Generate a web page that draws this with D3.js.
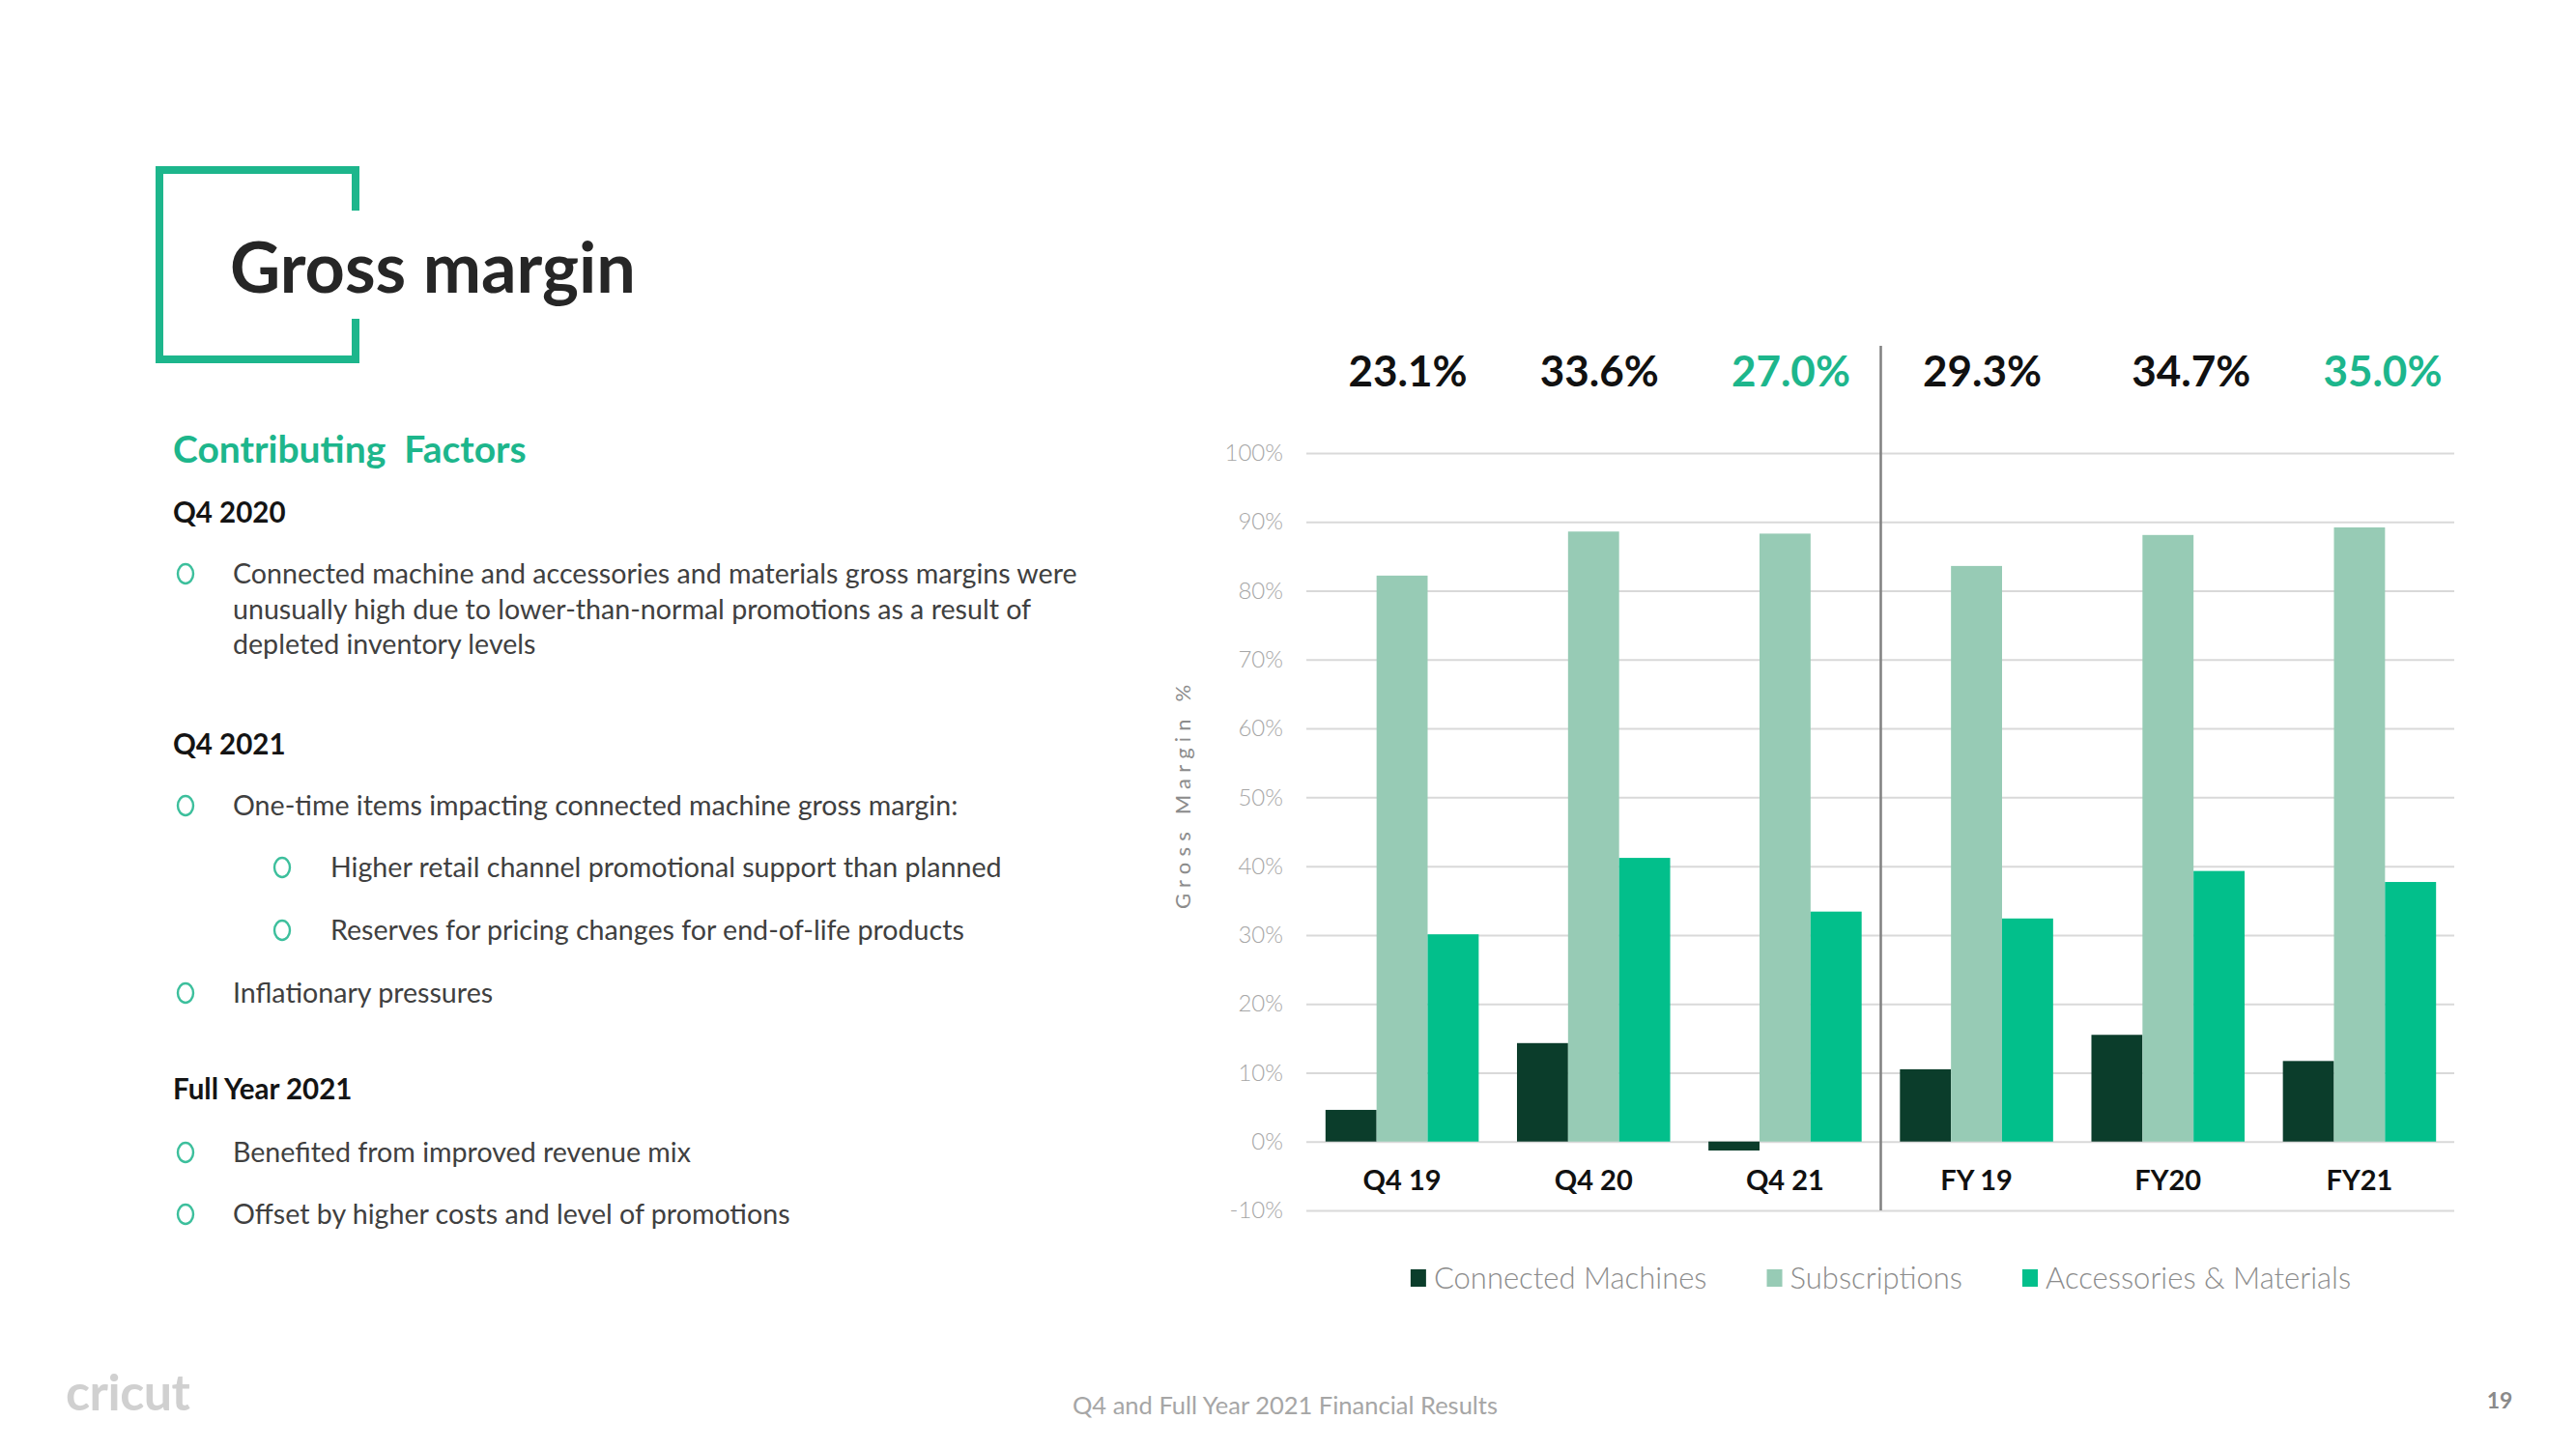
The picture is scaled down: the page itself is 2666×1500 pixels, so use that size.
<!DOCTYPE html>
<html>
<head>
<meta charset="utf-8">
<script src="https://cdn.jsdelivr.net/npm/d3@7"></script>
<style>
  html, body { margin: 0; padding: 0; background: #ffffff; }
  svg { display: block; font-family: Lato, "Open Sans", sans-serif; }
</style>
</head>
<body>
<svg id="slide" width="2666" height="1500"></svg>
<script>
// ---------- data ----------
const categories = ["Q4 19", "Q4 20", "Q4 21", "FY 19", "FY20", "FY21"];
const seriesNames = ["Connected Machines", "Subscriptions", "Accessories & Materials"];
const connectedMachines = [4.6, 14.3, -1.3, 10.5, 15.5, 11.7];
const subscriptions = [82.2, 88.6, 88.3, 83.6, 88.1, 89.2];
const accessoriesMaterials = [30.1, 41.2, 33.4, 32.4, 39.3, 37.7];
const totalMargins = ["23.1%", "33.6%", "27.0%", "29.3%", "34.7%", "35.0%"];
const totalHighlighted = [false, false, true, false, false, true];
const yTicks = [-10, 0, 10, 20, 30, 40, 50, 60, 70, 80, 90, 100];

const bulletSections = [
  { heading: "Q4 2020", items: [
      { level: 0, lines: ["Connected machine and accessories and materials gross margins were",
                          "unusually high due to lower-than-normal promotions as a result of",
                          "depleted inventory levels"] } ] },
  { heading: "Q4 2021", items: [
      { level: 0, lines: ["One-time items impacting connected machine gross margin:"] },
      { level: 1, lines: ["Higher retail channel promotional support than planned"] },
      { level: 1, lines: ["Reserves for pricing changes for end-of-life products"] },
      { level: 0, lines: ["Inflationary pressures"] } ] },
  { heading: "Full Year 2021", items: [
      { level: 0, lines: ["Benefited from improved revenue mix"] },
      { level: 0, lines: ["Offset by higher costs and level of promotions"] } ] }
];

// ---------- styles ----------
const TEAL = "#1db68c";
const seriesColors = ["#0b3d2b", "#97cbb5", "#02bf8b"];

const svg = d3.select("#slide");

// ---------- title bracket ----------
const br = svg.append("g").attr("fill", "none").attr("stroke", TEAL).attr("stroke-width", 8);
br.append("path").attr("d", "M368,218 V176 H165 V372 H368 V330");
svg.append("text").attr("x", 238).attr("y", 303)
  .attr("font-size", 72).attr("font-weight", 700).attr("fill", "#262626")
  .text("Gross margin");

// ---------- left panel ----------
svg.append("text").attr("x", 179).attr("y", 479)
  .attr("font-size", 39).attr("font-weight", 700).attr("fill", TEAL)
  .attr("xml:space", "preserve").text("Contributing  Factors");

const sectionTops = [541, 781, 1138];
const itemLayouts = [[604], [844, 908, 973, 1038], [1203, 1267]];
const lineGap = 36.6;
bulletSections.forEach((sec, si) => {
  svg.append("text").attr("x", 179).attr("y", sectionTops[si])
    .attr("font-size", 29.5).attr("font-weight", 700).attr("fill", "#141414")
    .text(sec.heading);
  sec.items.forEach((it, ii) => {
    const by = itemLayouts[si][ii];
    const bx = it.level === 0 ? 192 : 292;
    const tx = it.level === 0 ? 241 : 342;
    svg.append("ellipse").attr("cx", bx).attr("cy", by - 10)
      .attr("rx", 8).attr("ry", 10).attr("fill", "none")
      .attr("stroke", "#3cbf9c").attr("stroke-width", 2.4);
    const t = svg.append("text").attr("x", tx).attr("y", by)
      .attr("font-size", 28.6).attr("fill", "#404040");
    it.lines.forEach((ln, li) => {
      t.append("tspan").attr("x", tx).attr("y", by + li * lineGap).text(ln);
    });
  });
});

// ---------- chart ----------
const x = d3.scaleBand().domain(categories).range([1352, 2541]).paddingInner(0.2).paddingOuter(0.1);
const xs = d3.scaleBand().domain(seriesNames).range([0, x.bandwidth()]);
const y = d3.scaleLinear().domain([-10, 100]).range([1253, 469]);

// gridlines + tick labels
const yAxis = d3.axisLeft(y).tickValues(yTicks).tickSize(-(1189)).tickFormat(d => d + "%").tickPadding(24);
const ga = svg.append("g").attr("transform", "translate(1352,0)").call(yAxis);
ga.select(".domain").remove();
ga.selectAll(".tick line").attr("stroke", "#d9d9d9").attr("stroke-width", 2).attr("x2", 2540 - 1352);
ga.selectAll(".tick text").attr("fill", "#a6a6a6").attr("font-size", 24).attr("font-weight", 300)
  .attr("font-family", "Lato, sans-serif");

// y title
svg.append("text")
  .attr("transform", `translate(1232, ${y(50.5)}) rotate(-90)`)
  .attr("text-anchor", "middle").attr("font-size", 22).attr("fill", "#8c8c8c")
  .attr("letter-spacing", 6.2).text("Gross Margin %");

// bars
const seriesValues = [connectedMachines, subscriptions, accessoriesMaterials];
const groups = svg.append("g").selectAll("g").data(categories).join("g")
  .attr("transform", d => `translate(${x(d)},0)`);
groups.selectAll("rect")
  .data((d, i) => seriesNames.map((s, k) => ({ s, k, v: seriesValues[k][i] })))
  .join("rect")
  .attr("x", d => xs(d.s))
  .attr("width", xs.bandwidth())
  .attr("y", d => y(Math.max(0, d.v)))
  .attr("height", d => Math.abs(y(d.v) - y(0)))
  .attr("fill", d => seriesColors[d.k]);

// category labels
svg.append("g").selectAll("text").data(categories).join("text")
  .attr("x", d => x(d) + x.bandwidth() / 2)
  .attr("y", 1232)
  .attr("text-anchor", "middle").attr("font-size", 29).attr("font-weight", 700).attr("fill", "#111")
  .text(d => d);

// total labels
svg.append("g").selectAll("text").data(categories).join("text")
  .attr("x", (d, i) => x(d) + x.bandwidth() / 2 + (i < 4 ? 6 : 24))
  .attr("y", 400)
  .attr("text-anchor", "middle").attr("font-size", 44).attr("font-weight", 700)
  .attr("fill", (d, i) => totalHighlighted[i] ? TEAL : "#111")
  .text((d, i) => totalMargins[i]);

// divider between quarters and full years
const divX = x(categories[3]) - x.step() * x.paddingInner() / 2;
svg.append("line").attr("x1", divX).attr("x2", divX).attr("y1", 358).attr("y2", y(-10))
  .attr("stroke", "#808080").attr("stroke-width", 2.5);

// legend
const lg = svg.append("g");
let lx = 0;
seriesNames.forEach((s, k) => {
  lg.append("rect").attr("x", lx).attr("y", 1314).attr("width", 16).attr("height", 18).attr("fill", seriesColors[k]);
  const t = lg.append("text").attr("x", lx + 24).attr("y", 1334)
    .attr("font-size", 31).attr("font-weight", 300).attr("fill", "#8c8c8c").text(s);
  lx += 24 + t.node().getComputedTextLength() + 62;
});
const lgW = lx - 62;
lg.attr("transform", `translate(${(1352 + 2541) / 2 - lgW / 2},0)`);

// ---------- footer ----------
svg.append("text").attr("x", 68).attr("y", 1460)
  .attr("font-size", 52).attr("font-weight", 700).attr("fill", "#d0d0d0").attr("letter-spacing", -0.5)
  .text("cricut");
svg.append("text").attr("x", 1330).attr("y", 1464).attr("text-anchor", "middle")
  .attr("font-size", 25.5).attr("fill", "#a6a6a6").text("Q4 and Full Year 2021 Financial Results");
svg.append("text").attr("x", 2587).attr("y", 1458).attr("text-anchor", "middle")
  .attr("font-size", 23).attr("font-weight", 700).attr("fill", "#8a8a8a").text("19");
</script>
</body>
</html>
